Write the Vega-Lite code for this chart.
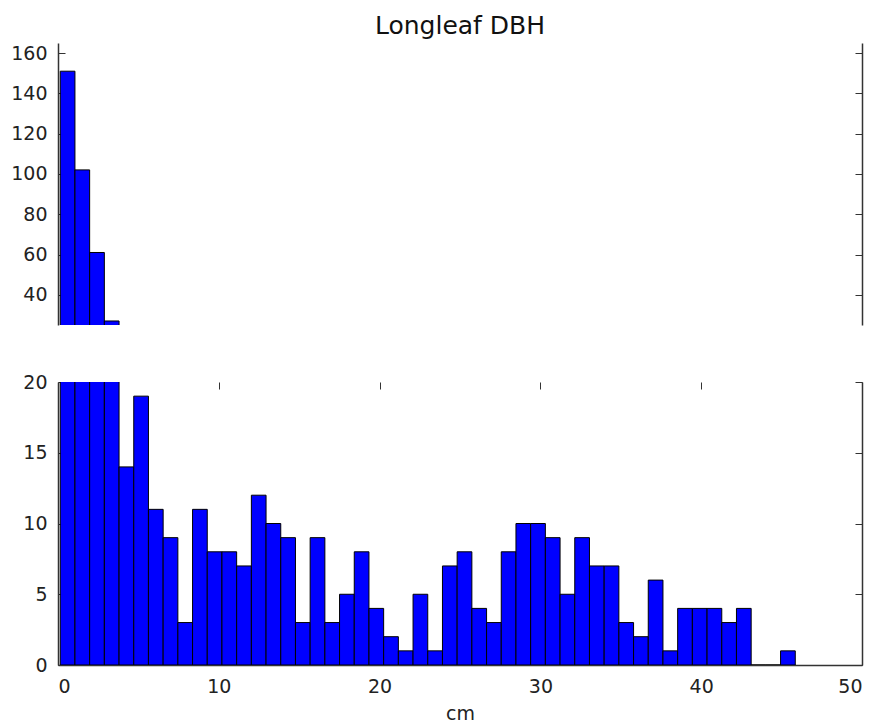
{
  "$schema": "https://vega.github.io/schema/vega-lite/v6.json",
  "padding": {"left": 10, "top": 14, "right": 10, "bottom": 5},
  "config": {
    "view": {"stroke": null},
    "font": "DejaVu Sans",
    "axis": {
      "labelFont": "DejaVu Sans", "labelFontSize": 19, "labelColor": "#222",
      "titleFont": "DejaVu Sans", "titleFontSize": 19, "titleFontWeight": "normal", "titleColor": "#222",
      "domainColor": "#333", "domainWidth": 1.5, "tickColor": "#333", "tickWidth": 1,
      "tickSize": -7, "grid": false
    },
    "title": {"font": "DejaVu Sans", "fontSize": 25, "fontWeight": "normal", "color": "#111"}
  },
  "datasets": {
    "hist": [
      {"x0": 0.140, "x1": 1.054, "count": 151},
      {"x0": 1.054, "x1": 1.968, "count": 102},
      {"x0": 1.968, "x1": 2.883, "count": 61},
      {"x0": 2.883, "x1": 3.797, "count": 27},
      {"x0": 3.797, "x1": 4.711, "count": 14},
      {"x0": 4.711, "x1": 5.625, "count": 19},
      {"x0": 5.625, "x1": 6.539, "count": 11},
      {"x0": 6.539, "x1": 7.454, "count": 9},
      {"x0": 7.454, "x1": 8.368, "count": 3},
      {"x0": 8.368, "x1": 9.282, "count": 11},
      {"x0": 9.282, "x1": 10.196, "count": 8},
      {"x0": 10.196, "x1": 11.110, "count": 8},
      {"x0": 11.110, "x1": 12.025, "count": 7},
      {"x0": 12.025, "x1": 12.939, "count": 12},
      {"x0": 12.939, "x1": 13.853, "count": 10},
      {"x0": 13.853, "x1": 14.767, "count": 9},
      {"x0": 14.767, "x1": 15.681, "count": 3},
      {"x0": 15.681, "x1": 16.596, "count": 9},
      {"x0": 16.596, "x1": 17.510, "count": 3},
      {"x0": 17.510, "x1": 18.424, "count": 5},
      {"x0": 18.424, "x1": 19.338, "count": 8},
      {"x0": 19.338, "x1": 20.252, "count": 4},
      {"x0": 20.252, "x1": 21.167, "count": 2},
      {"x0": 21.167, "x1": 22.081, "count": 1},
      {"x0": 22.081, "x1": 22.995, "count": 5},
      {"x0": 22.995, "x1": 23.909, "count": 1},
      {"x0": 23.909, "x1": 24.823, "count": 7},
      {"x0": 24.823, "x1": 25.738, "count": 8},
      {"x0": 25.738, "x1": 26.652, "count": 4},
      {"x0": 26.652, "x1": 27.566, "count": 3},
      {"x0": 27.566, "x1": 28.480, "count": 8},
      {"x0": 28.480, "x1": 29.394, "count": 10},
      {"x0": 29.394, "x1": 30.309, "count": 10},
      {"x0": 30.309, "x1": 31.223, "count": 9},
      {"x0": 31.223, "x1": 32.137, "count": 5},
      {"x0": 32.137, "x1": 33.051, "count": 9},
      {"x0": 33.051, "x1": 33.965, "count": 7},
      {"x0": 33.965, "x1": 34.880, "count": 7},
      {"x0": 34.880, "x1": 35.794, "count": 3},
      {"x0": 35.794, "x1": 36.708, "count": 2},
      {"x0": 36.708, "x1": 37.622, "count": 6},
      {"x0": 37.622, "x1": 38.536, "count": 1},
      {"x0": 38.536, "x1": 39.451, "count": 4},
      {"x0": 39.451, "x1": 40.365, "count": 4},
      {"x0": 40.365, "x1": 41.279, "count": 4},
      {"x0": 41.279, "x1": 42.193, "count": 3},
      {"x0": 42.193, "x1": 43.107, "count": 4},
      {"x0": 43.107, "x1": 44.022, "count": 0},
      {"x0": 44.022, "x1": 44.936, "count": 0},
      {"x0": 44.936, "x1": 45.850, "count": 1}
    ]
  },
  "vconcat": [
    {
      "title": {"text": "Longleaf DBH", "offset": 4},
      "width": 804,
      "height": 282,
      "data": {"name": "hist"},
      "layer": [
        {
          "mark": {"type": "bar", "fill": "#0000ff", "stroke": "#000", "strokeWidth": 1, "clip": true},
          "encoding": {
            "x": {"field": "x0", "type": "quantitative", "scale": {"domain": [0, 50], "nice": false, "zero": false},
                  "axis": {"orient": "top", "labels": false, "ticks": false, "title": null}},
            "x2": {"field": "x1"},
            "y": {"field": "count", "type": "quantitative", "scale": {"domain": [25, 165], "nice": false, "zero": false},
                  "axis": {"orient": "left", "values": [40, 60, 80, 100, 120, 140, 160], "title": null, "labelPadding": 18}},
            "y2": {"datum": 0}
          }
        },
        {
          "mark": {"type": "bar", "opacity": 0, "clip": true},
          "encoding": {
            "x": {"field": "x0", "type": "quantitative", "axis": null},
            "x2": {"field": "x1"},
            "y": {"field": "count", "type": "quantitative",
                  "axis": {"orient": "right", "values": [40, 60, 80, 100, 120, 140, 160], "labels": false, "title": null}},
            "y2": {"datum": 0}
          }
        }
      ]
    },
    {
      "width": 804,
      "height": 283,
      "data": {"name": "hist"},
      "layer": [
        {
          "mark": {"type": "bar", "fill": "#0000ff", "stroke": "#000", "strokeWidth": 1, "clip": true},
          "encoding": {
            "x": {"field": "x0", "type": "quantitative", "scale": {"domain": [0, 50], "nice": false, "zero": false},
                  "axis": {"orient": "bottom", "values": [0, 10, 20, 30, 40, 50], "title": "cm", "labelPadding": 19, "titlePadding": 8}},
            "x2": {"field": "x1"},
            "y": {"field": "count", "type": "quantitative", "scale": {"domain": [0, 20], "nice": false},
                  "axis": {"orient": "left", "values": [0, 5, 10, 15, 20], "title": null, "labelPadding": 18}},
            "y2": {"datum": 0}
          }
        },
        {
          "mark": {"type": "bar", "opacity": 0, "clip": true},
          "encoding": {
            "x": {"field": "x0", "type": "quantitative",
                  "axis": {"orient": "top", "values": [0, 10, 20, 30, 40, 50], "labels": false, "domain": false, "title": null}},
            "x2": {"field": "x1"},
            "y": {"field": "count", "type": "quantitative",
                  "axis": {"orient": "right", "values": [0, 5, 10, 15, 20], "labels": false, "title": null}},
            "y2": {"datum": 0}
          }
        }
      ]
    }
  ],
  "spacing": 48
}
